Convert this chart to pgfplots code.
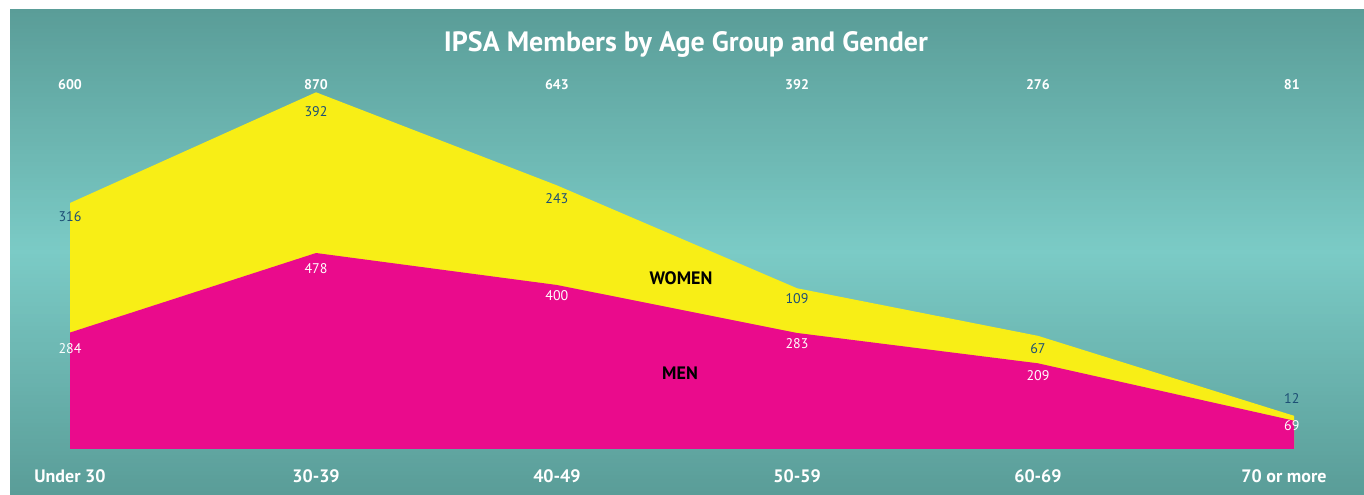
\documentclass[border=0pt]{standalone}
\usepackage{pgfplots}
\pgfplotsset{compat=1.18}
\usepackage{fontspec}
\setmainfont{PT Sans}
\definecolor{bgdark}{HTML}{5A9D98}
\definecolor{bglight}{HTML}{7BCBC6}
\definecolor{ipsayellow}{HTML}{F8EE16}
\definecolor{ipsamag}{HTML}{EA0B8C}
\definecolor{labnavy}{HTML}{1D4F75}
\pgfplotsset{
  lab/.style={draw=none, mark=none, nodes near coords, point meta=explicit symbolic,
    every node near coord/.append style={anchor=center, inner sep=0pt, #1}},
}
\begin{document}
\begin{tikzpicture}
\fill[white] (0,0) rectangle (1023pt,371.25pt);
\foreach \i in {0,...,120}{
  \pgfmathsetmacro\yyb{\i*3.0124}
  \pgfmathsetmacro\yyt{min((\i+1.3)*3.0124,364.5)}
  \pgfmathtruncatemacro\mixp{100*(1-abs((\i+0.5)/60.5-1))}
  \fill[bglight!\mixp!bgdark] (7.5pt,\yyb pt) rectangle (1023pt,\yyt pt);
}
\node[text=white, font=\fontsize{21}{25}\selectfont\bfseries] at (514.5pt,338.25pt) {IPSA Members by Age Group and Gender};
\begin{axis}[
  at={(52.5pt,34.5pt)}, anchor=south west,
  scale only axis, width=918pt, height=307.5pt,
  xmin=0, xmax=5, ymin=0, ymax=1000,
  hide axis, clip=false,
]
% total (women on top of men)
\addplot[fill=ipsayellow, draw=none] coordinates {(0,600) (1.005,870) (1.989,643) (2.970,392) (3.954,276) (5,81)} \closedcycle;
% men
\addplot[fill=ipsamag, draw=none] coordinates {(0,284) (1.005,478) (1.989,400) (2.970,283) (3.954,209) (5,69)} \closedcycle;
% totals
\addplot[lab={text=white, font=\fontsize{10.5}{12}\selectfont\bfseries}] coordinates {
 (0,888) [600] (1.005,888) [870] (1.989,888) [643] (2.970,888) [392] (3.954,888) [276] (4.991,888) [81]};
% women values
\addplot[lab={text=labnavy, font=\fontsize{10.5}{12}\selectfont}] coordinates {
 (0,566) [316] (1.005,822) [392] (1.989,610) [243] (2.970,368) [109] (3.954,246) [67] (4.991,122) [12]};
% men values
\addplot[lab={text=white, font=\fontsize{10.5}{12}\selectfont}] coordinates {
 (0,246) [284] (1.005,441) [478] (1.989,373) [400] (2.970,256) [283] (3.954,180) [209] (4.991,56) [69]};
% series names
\addplot[lab={text=black, font=\fontsize{13.5}{16}\selectfont\bfseries}] coordinates {
 (2.496,417) [WOMEN] (2.492,185) [MEN]};
% categories
\addplot[lab={text=white, font=\fontsize{13.5}{16}\selectfont\bfseries}] coordinates {
 (0,-66) [Under 30] (1.005,-66) [30-39] (1.989,-66) [40-49] (2.970,-66) [50-59] (3.954,-66) [60-69] (4.959,-66) [70 or more]};
\end{axis}
\end{tikzpicture}
\end{document}
